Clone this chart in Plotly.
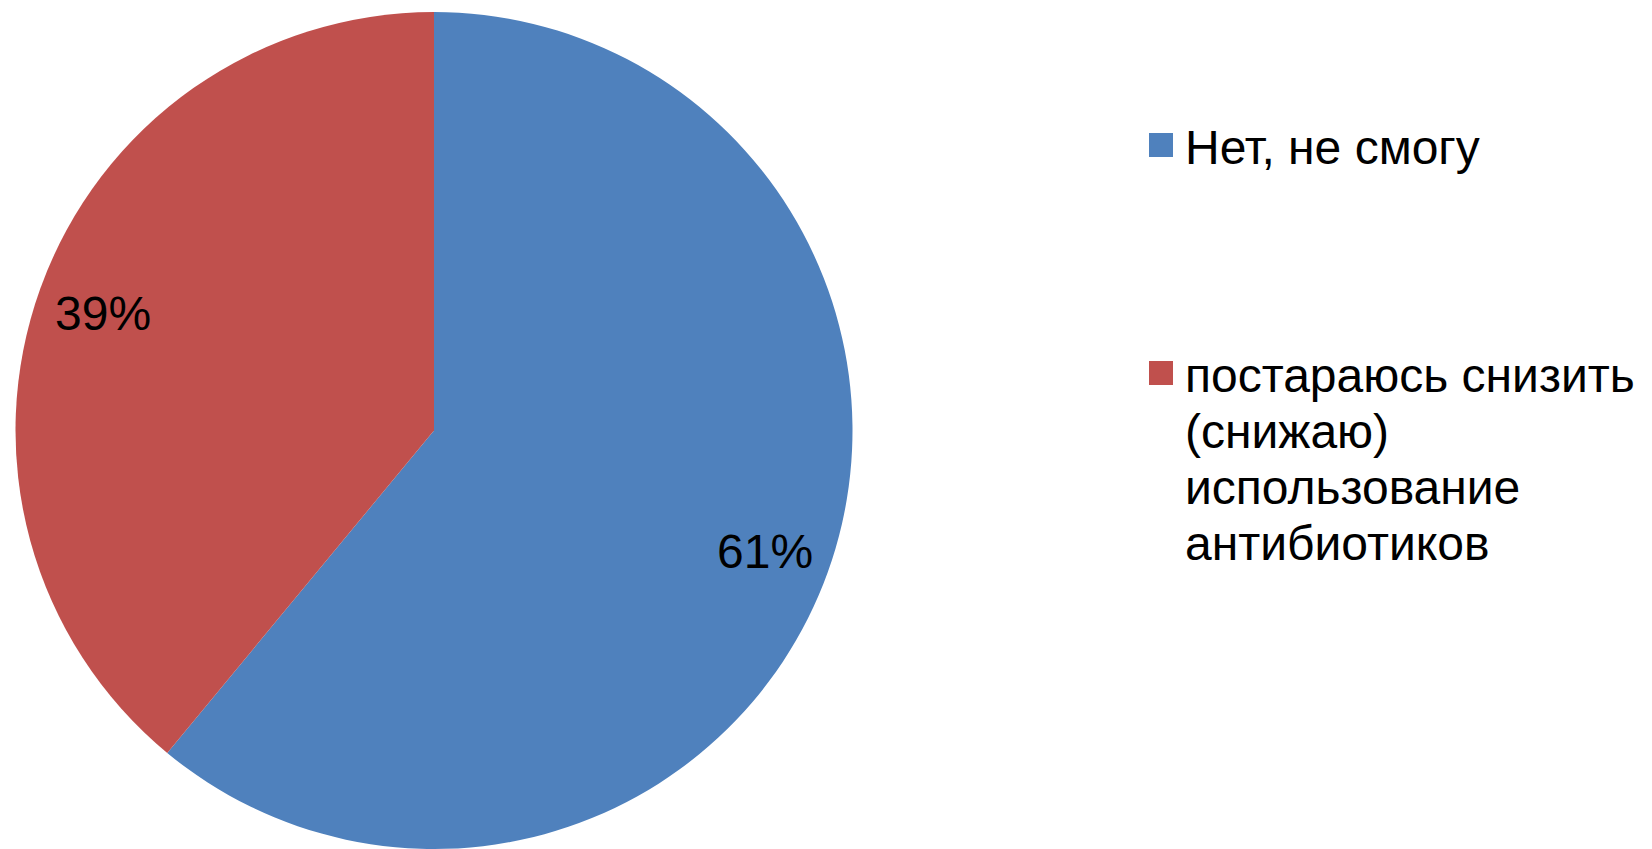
import math
import plotly.graph_objects as go

# ---- data ----
labels = ["Нет, не смогу", "постараюсь снизить<br>(снижаю)<br>использование<br>антибиотиков"]
values = [61, 39]
colors = ["#4F81BD", "#C0504D"]

W, H = 1652, 849
FONT = "Liberation Sans, Arial, sans-serif"
FS = 48

# pie geometry (pixels)
pie_x0, pie_x1 = 14, 854
pie_top = 12
dom_x = [pie_x0 / W, pie_x1 / W]
dom_y = [0, 1 - pie_top / H]
r = min(pie_x1 - pie_x0, H - pie_top) / 2
cx = (pie_x0 + pie_x1) / 2
cy = H - (H - pie_top) / 2

fig = go.Figure(go.Pie(
    labels=labels, values=values, sort=False, direction="clockwise", rotation=0,
    marker=dict(colors=colors, line=dict(width=0)), textinfo="none",
    hoverinfo="label+percent", showlegend=False,
    domain=dict(x=dom_x, y=dom_y),
))

annotations = []
shapes = []
total = sum(values)
start = 0.0
for v in values:
    mid = (start + v / 2) / total * 2 * math.pi
    start += v
    px = cx + 0.84 * r * math.sin(mid)
    py = cy - 0.84 * r * math.cos(mid) + 2
    annotations.append(dict(
        x=px / W, y=1 - py / H, xref="paper", yref="paper", showarrow=False,
        text=f"{round(v / total * 100)}%", font=dict(family=FONT, size=FS, color="black"),
        xanchor="center", yanchor="middle",
    ))

# custom legend
leg_sq_x0, leg_sq = 1149, 24
leg_text_x = 1183
item_tops = [133, 361]
line_h = 56
for i, (lab, col) in enumerate(zip(labels, colors)):
    top = item_tops[i]
    shapes.append(dict(type="rect", xref="paper", yref="paper",
                       x0=leg_sq_x0 / W, x1=(leg_sq_x0 + leg_sq) / W,
                       y0=1 - (top + leg_sq) / H, y1=1 - top / H,
                       fillcolor=col, line=dict(width=0)))
    for j, line in enumerate(lab.split("<br>")):
        yc = top + leg_sq / 2 + 2 + j * line_h
        annotations.append(dict(
            x=leg_text_x / W, y=1 - yc / H, xref="paper", yref="paper", showarrow=False,
            text=line, font=dict(family=FONT, size=FS, color="black"),
            xanchor="left", yanchor="middle",
        ))

fig.update_layout(
    width=W, height=H, margin=dict(l=0, r=0, t=0, b=0),
    paper_bgcolor="white", plot_bgcolor="white",
    annotations=annotations, shapes=shapes, showlegend=False,
)
fig.write_html("out.html")
